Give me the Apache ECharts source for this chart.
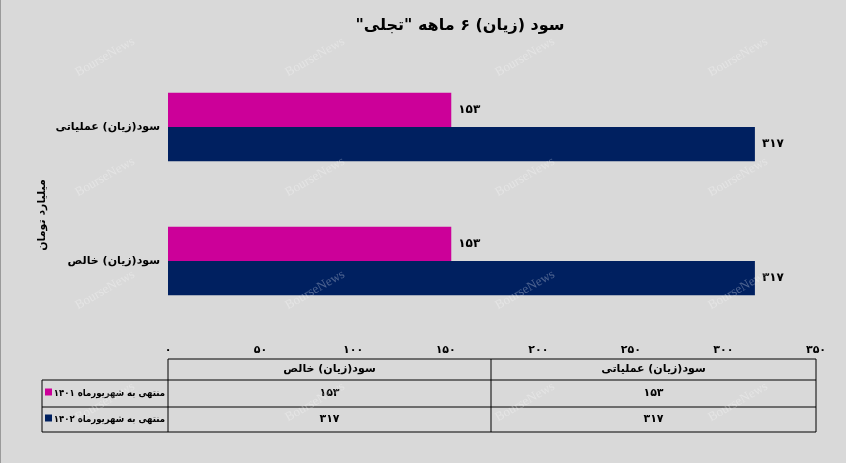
<!DOCTYPE html>
<html>
<head>
<meta charset="utf-8">
<script src="https://cdn.jsdelivr.net/npm/echarts@6/dist/echarts.min.js"></script>
<style>
  html, body { margin: 0; padding: 0; background: #d9d9d9; }
  #chart { width: 846px; height: 463px; }
</style>
</head>
<body>
<div id="chart"></div>
<script>
// داده‌ها
var categories = ['سود(زیان) خالص', 'سود(زیان) عملیاتی'];
var seriesNames = ['منتهی به شهریورماه ۱۴۰۱', 'منتهی به شهریورماه ۱۴۰۲'];
var values1401 = [153, 153];
var values1402 = [317, 317];
var xTicks = [0, 50, 100, 150, 200, 250, 300, 350];
var colors = ['#cc0099', '#002060'];

var FONT = 'DejaVu Sans';
var RLM = '\u200F';

function fa(n) {
  return String(n).replace(/\d/g, function (d) { return '۰۱۲۳۴۵۶۷۸۹'[d]; });
}

var chart = echarts.init(document.getElementById('chart'));

// جدول داده زیر نمودار
var colX = [42, 168, 491, 816];
var rowY = [359, 380, 407, 432];
var tableEls = [];
function line(x1, y1, x2, y2) {
  tableEls.push({ type: 'line', shape: { x1: x1, y1: y1, x2: x2, y2: y2 },
    style: { stroke: '#000', lineWidth: 1 } });
}
function txt(x, y, s, align, font) {
  tableEls.push({ type: 'text', x: x, y: y,
    style: { text: s, fill: '#000', font: font || ('bold 11px ' + FONT),
      align: align || 'center', verticalAlign: 'middle' } });
}
line(colX[1], rowY[0], colX[3], rowY[0]);
line(colX[0], rowY[1], colX[3], rowY[1]);
line(colX[0], rowY[2], colX[3], rowY[2]);
line(colX[0], rowY[3], colX[3], rowY[3]);
line(colX[0], rowY[1], colX[0], rowY[3]);
line(colX[1], rowY[0], colX[1], rowY[3]);
line(colX[2], rowY[0], colX[2], rowY[3]);
line(colX[3], rowY[0], colX[3], rowY[3]);
categories.forEach(function (c, i) {
  txt((colX[i + 1] + colX[i + 2]) / 2, (rowY[0] + rowY[1]) / 2, c);
});
var rows = [values1401, values1402];
rows.forEach(function (vals, r) {
  var cy = (rowY[r + 1] + rowY[r + 2]) / 2;
  tableEls.push({ type: 'rect', shape: { x: colX[0] + 3, y: cy - 5, width: 7, height: 7 },
    style: { fill: colors[r] } });
  txt(colX[1] - 3, cy, seriesNames[r], 'right', 'bold 9.5px "DejaVu Sans Condensed", ' + FONT);
  vals.forEach(function (v, i) {
    txt((colX[i + 1] + colX[i + 2]) / 2, cy, fa(v));
  });
});

// واترمارک
var wmEls = [];
[57, 177, 290, 402].forEach(function (y) {
  [105, 315, 525, 738].forEach(function (x) {
    wmEls.push({ type: 'text', x: x, y: y, rotation: Math.PI / 6, z: 100,
      style: { text: 'BourseNews', fill: 'rgba(255,255,255,0.3)', font: '13px Liberation Serif',
        align: 'center', verticalAlign: 'middle' } });
  });
});

var labelStyle = {
  show: true, position: 'right', distance: 7, color: '#000', fontFamily: FONT,
  fontWeight: 'bold', fontSize: 12, formatter: function (p) { return fa(p.value); }
};

var option = {
  backgroundColor: '#d9d9d9',
  animation: false,
  title: {
    text: 'سود (زیان) ۶ ماهه "تجلی"' + RLM,
    left: 455,
    top: 13,
    textAlign: 'center',
    textStyle: { fontFamily: FONT, fontSize: 16, fontWeight: 'bold', color: '#000' }
  },
  grid: { left: 168, right: 30, top: 60, bottom: 135 },
  xAxis: {
    type: 'value',
    min: 0,
    max: 350,
    interval: 50,
    axisLine: { show: false },
    axisTick: { show: false },
    splitLine: { show: false },
    axisLabel: {
      margin: 17,
      color: '#000',
      fontFamily: FONT,
      fontWeight: 'bold',
      fontSize: 11,
      formatter: function (v) { return fa(v); }
    }
  },
  yAxis: {
    type: 'category',
    data: categories,
    axisLine: { show: false },
    axisTick: { show: false },
    axisLabel: { margin: 8, color: '#000', fontFamily: FONT, fontWeight: 'bold', fontSize: 11 }
  },
  series: [
    {
      name: seriesNames[0],
      type: 'bar',
      data: values1401,
      barGap: '0%',
      barCategoryGap: '49%',
      itemStyle: { color: colors[0] },
      label: labelStyle
    },
    {
      name: seriesNames[1],
      type: 'bar',
      data: values1402,
      itemStyle: { color: colors[1] },
      label: labelStyle
    }
  ],
  graphic: tableEls.concat(wmEls).concat([
    { type: 'text', x: 42, y: 215, rotation: Math.PI / 2,
      style: { text: 'میلیارد تومان', fill: '#000', font: 'bold 11px ' + FONT,
        align: 'center', verticalAlign: 'middle' } },
    { type: 'line', shape: { x1: 0.5, y1: 0, x2: 0.5, y2: 463 }, style: { stroke: '#9a9a9a', lineWidth: 1 } }
  ])
};

chart.setOption(option);
</script>
</body>
</html>
